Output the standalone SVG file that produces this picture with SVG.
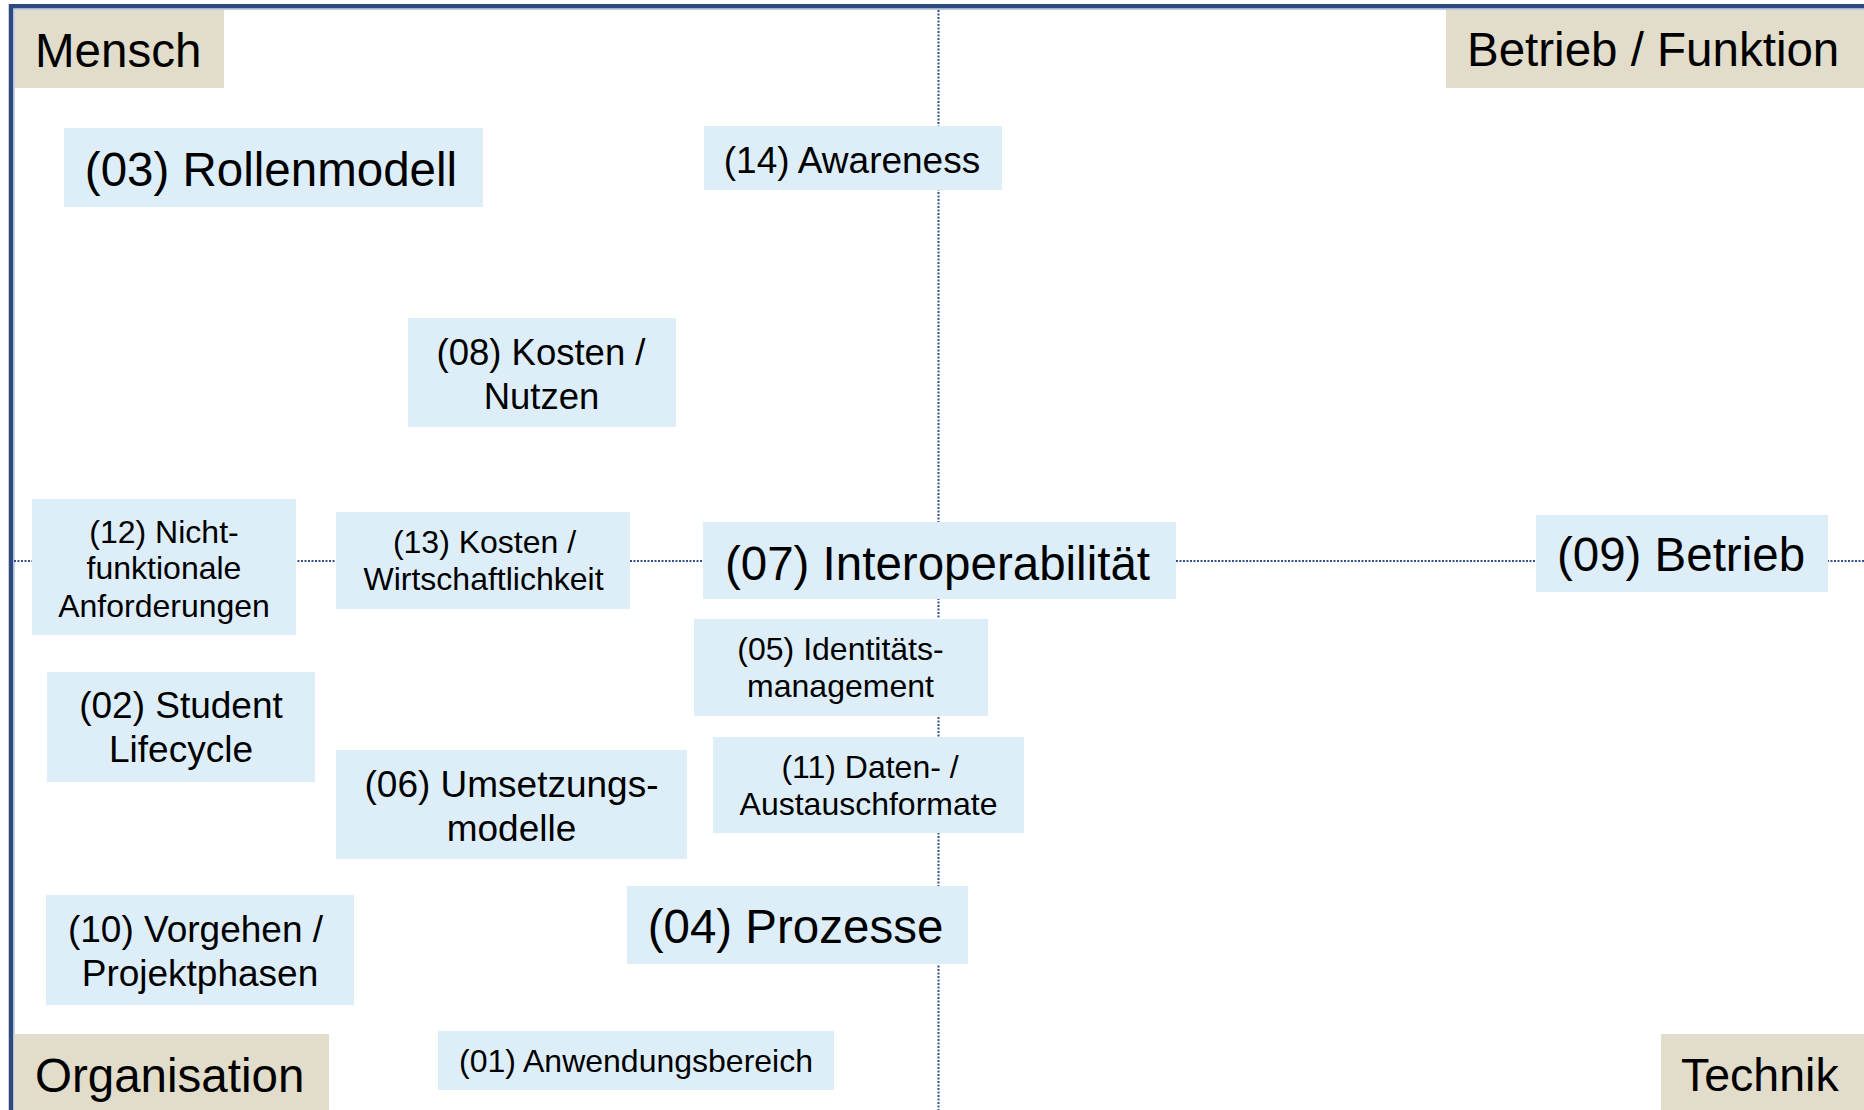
<svg xmlns="http://www.w3.org/2000/svg" width="1864" height="1110" viewBox="0 0 1864 1110">
  <style>
    text { font-family: "Liberation Sans", Arial, sans-serif; fill: #000; }
    .node { fill: #ddeef8; }
    .corner { fill: #e2dccb; }
    .axis { stroke: #34508a; stroke-width: 2; stroke-dasharray: 2 1.5; fill: none; }
    .xl { font-size: 47.5px; }
    .md { font-size: 37px; }
    .sm { font-size: 32px; }
    .c { text-anchor: middle; }
  </style>

  <rect x="0" y="0" width="1864" height="1110" fill="#ffffff"/>

  <!-- frame (top and left edges) -->
  <g id="frame">
    <path d="M11 1110 V6.3 H1864" fill="none" stroke="#2e4a7c" stroke-width="4.5"/>
    <path d="M14 1110 V9.2 H1864" fill="none" stroke="#a6bbdd" stroke-width="1.3"/>
  </g>

  <!-- dotted axes -->
  <g id="connectors">
    <line class="axis" x1="14" y1="561" x2="1864" y2="561"/>
    <line class="axis" x1="938.5" y1="10" x2="938.5" y2="1110"/>
  </g>

  <!-- corner labels -->
  <g id="label-mensch">
    <rect class="corner" x="15" y="10" width="209" height="78"/>
    <text class="xl" x="35" y="66.5">Mensch</text>
  </g>
  <g id="label-betrieb-funktion">
    <rect class="corner" x="1446" y="10" width="418" height="78"/>
    <text class="xl" x="1467" y="65.5">Betrieb / Funktion</text>
  </g>
  <g id="label-organisation">
    <rect class="corner" x="14" y="1034" width="315" height="76"/>
    <text class="xl" x="35" y="1092">Organisation</text>
  </g>
  <g id="label-technik">
    <rect class="corner" x="1661" y="1034" width="203" height="76"/>
    <text class="xl" x="1681" y="1091" style="font-size:46.5px">Technik</text>
  </g>

  <!-- topic nodes -->
  <g id="n03">
    <rect class="node" x="64" y="128" width="419" height="79"/>
    <text class="xl c" x="271" y="186">(03) Rollenmodell</text>
  </g>
  <g id="n14">
    <rect class="node" x="704" y="126" width="298" height="64"/>
    <text class="md c" x="852" y="173">(14) Awareness</text>
  </g>
  <g id="n08">
    <rect class="node" x="408" y="318" width="268" height="109"/>
    <text class="md c" x="541" y="365" style="font-size:36.5px">(08) Kosten /</text>
    <text class="md c" x="541.5" y="409" style="font-size:36.5px">Nutzen</text>
  </g>
  <g id="n12">
    <rect class="node" x="32" y="499" width="264" height="136"/>
    <text class="sm c" x="164" y="542.5">(12) Nicht-</text>
    <text class="sm c" x="164" y="579">funktionale</text>
    <text class="sm c" x="164" y="616.5">Anforderungen</text>
  </g>
  <g id="n13">
    <rect class="node" x="336" y="512" width="294" height="97"/>
    <text class="sm c" x="484.5" y="553">(13) Kosten /</text>
    <text class="sm c" x="483.5" y="590">Wirtschaftlichkeit</text>
  </g>
  <g id="n07">
    <rect class="node" x="703" y="522" width="473" height="77"/>
    <text class="xl c" x="937.5" y="580">(07) Interoperabilität</text>
  </g>
  <g id="n09">
    <rect class="node" x="1536" y="515" width="292" height="77"/>
    <text class="xl c" x="1681" y="571">(09) Betrieb</text>
  </g>
  <g id="n05">
    <rect class="node" x="694" y="619" width="294" height="97"/>
    <text class="sm c" x="840.5" y="660">(05) Identitäts-</text>
    <text class="sm c" x="840.5" y="697">management</text>
  </g>
  <g id="n02">
    <rect class="node" x="47" y="672" width="268" height="110"/>
    <text class="md c" x="181" y="718">(02) Student</text>
    <text class="md c" x="181" y="762">Lifecycle</text>
  </g>
  <g id="n06">
    <rect class="node" x="336" y="750" width="351" height="109"/>
    <text class="md c" x="511.5" y="797">(06) Umsetzungs-</text>
    <text class="md c" x="511.5" y="841">modelle</text>
  </g>
  <g id="n11">
    <rect class="node" x="713" y="737" width="311" height="96"/>
    <text class="sm c" x="870" y="778">(11) Daten- /</text>
    <text class="sm c" x="868.5" y="815">Austauschformate</text>
  </g>
  <g id="n10">
    <rect class="node" x="46" y="895" width="308" height="110"/>
    <text class="md c" x="195.5" y="942">(10) Vorgehen /</text>
    <text class="md c" x="200" y="986">Projektphasen</text>
  </g>
  <g id="n04">
    <rect class="node" x="627" y="886" width="341" height="78"/>
    <text class="xl c" x="795.5" y="943">(04) Prozesse</text>
  </g>
  <g id="n01">
    <rect class="node" x="438" y="1031" width="396" height="59"/>
    <text class="sm c" x="636" y="1072">(01) Anwendungsbereich</text>
  </g>
</svg>
